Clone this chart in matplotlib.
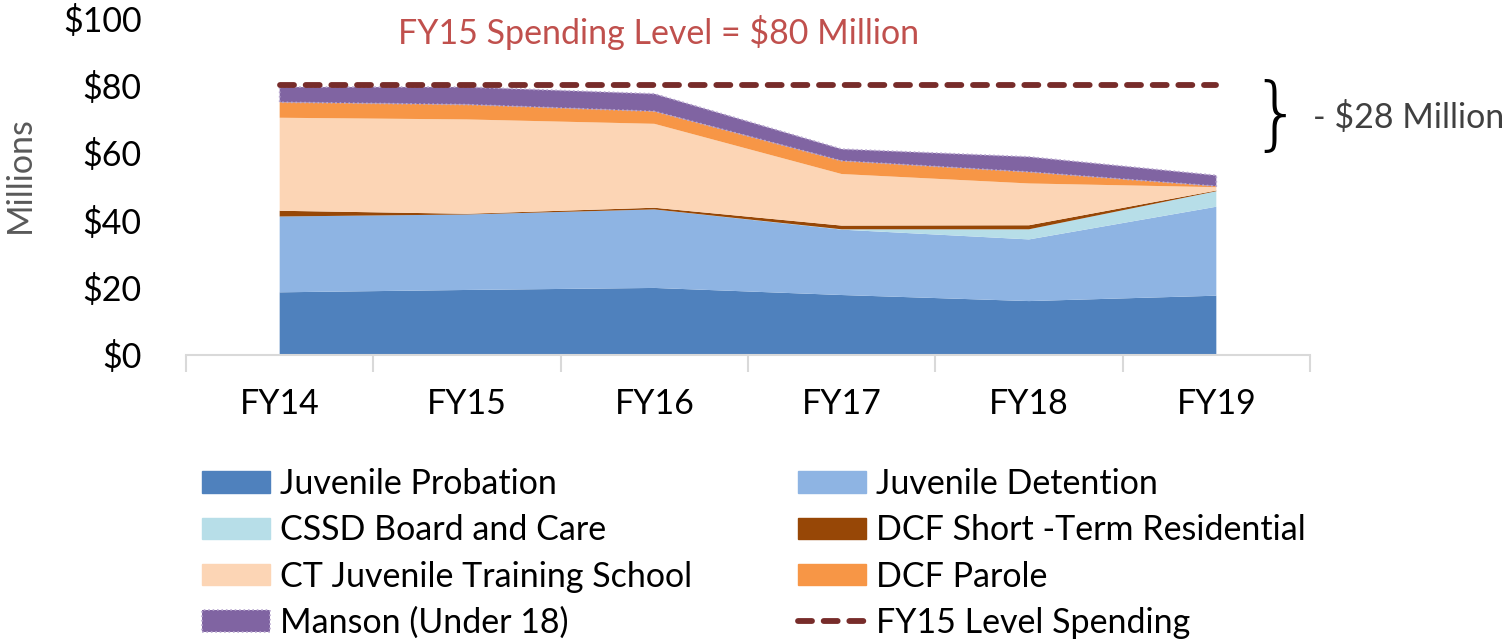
import numpy as np
from matplotlib import pyplot as plt
from matplotlib.patches import Patch
from matplotlib.lines import Line2D

plt.rcParams['font.family'] = ['Lato', 'DejaVu Sans']

years = ['FY14', 'FY15', 'FY16', 'FY17', 'FY18', 'FY19']
probation = [18.6, 19.3, 19.9, 17.8, 16.0, 17.6]
detention = [22.5, 22.4, 23.3, 19.4, 18.3, 26.4]
cssd      = [0.0, 0.0, 0.0, 0.1, 3.0, 4.6]
dcf_str   = [1.7, 0.2, 0.5, 1.1, 1.2, 0.2]
ctjts     = [27.6, 28.0, 24.9, 15.3, 12.4, 1.0]
parole    = [4.6, 4.4, 3.7, 3.9, 3.4, 0.3]
manson    = [4.5, 5.2, 5.2, 3.5, 4.5, 3.2]
fy15_level = [80, 80, 80, 80, 80, 80]

names = ['Juvenile Probation', 'Juvenile Detention', 'CSSD Board and Care',
         'DCF Short -Term Residential', 'CT Juvenile Training School',
         'DCF Parole', 'Manson (Under 18)']
colors = ['#4F81BD', '#8EB4E3', '#B7DEE8', '#974706', '#FCD5B5', '#F79646', '#8064A2']

fs = 24.5
fig = plt.figure(figsize=(15.03, 6.4), dpi=100)
ax = fig.add_axes([186/1503, 1-355/640, (1310-186)/1503, (355-18)/640])

x = np.arange(len(years))
polys = ax.stackplot(x, probation, detention, cssd, dcf_str, ctjts, parole, manson,
                     colors=colors, linewidth=0)
polys[-1].set_edgecolor('#B9A8D0')
polys[-1].set_linestyle(':')
polys[-1].set_linewidth(1.2)

ax.plot(x, fy15_level, color='#772C2A', lw=4.2, dashes=(2.4, 2.0),
        dash_capstyle='round')

ax.set_xlim(-0.5, len(years)-0.5)
ax.set_ylim(0, 100)
ax.set_yticks(range(0, 101, 20))
ax.set_yticklabels(['$%d' % v for v in range(0, 101, 20)], fontsize=fs)
ax.set_xticks(x)
ax.set_xticklabels(years, fontsize=fs)
ax.set_xticks(np.arange(-0.5, len(years), 1), minor=True)
ax.tick_params(axis='x', which='major', length=0, pad=24)
ax.tick_params(axis='x', which='minor', length=12, color='#D9D9D9', width=1.5)
ax.tick_params(axis='y', length=0, pad=32)
for s in ['top', 'right', 'left']:
    ax.spines[s].set_visible(False)
ax.spines['bottom'].set_color('#D9D9D9')
ax.spines['bottom'].set_linewidth(1.5)

fig.text(20/1503, 1-175/640, 'Millions', rotation=90, fontsize=fs, color='#595959',
         ha='center', va='center')
fig.text(659/1503, 1-33/640, 'FY15 Spending Level = $80 Million', fontsize=fs,
         color='#C0504D', ha='center', va='center')
fig.text(1276/1503, 1-118/640, '}', fontsize=58, color='black', ha='center', va='center',
         family='DejaVu Sans', fontweight='light')
fig.text(1313/1503, 1-118/640, '- $28 Million', fontsize=fs, color='#404040',
         ha='left', va='center')

h = [Patch(color=c) for c in colors]
h[-1] = Patch(facecolor=colors[-1], edgecolor='#B9A8D0', linestyle=':', linewidth=1.2)
line_h = Line2D([], [], color='#772C2A', lw=4.2, dashes=(2.4, 2.0), dash_capstyle='round')
order_h = [h[0], h[2], h[4], h[6], h[1], h[3], h[5], line_h]
order_l = [names[0], names[2], names[4], names[6], names[1], names[3], names[5],
           'FY15 Level Spending']
fig.legend(order_h, order_l, ncol=2, loc='upper left', bbox_to_anchor=(185/1503, 1-451/640),
           frameon=False, fontsize=fs, handlelength=2.0, handleheight=0.6,
           handletextpad=0.3, labelspacing=0.42, columnspacing=3.1, borderpad=0)

fig.savefig('out.png', dpi=100)
